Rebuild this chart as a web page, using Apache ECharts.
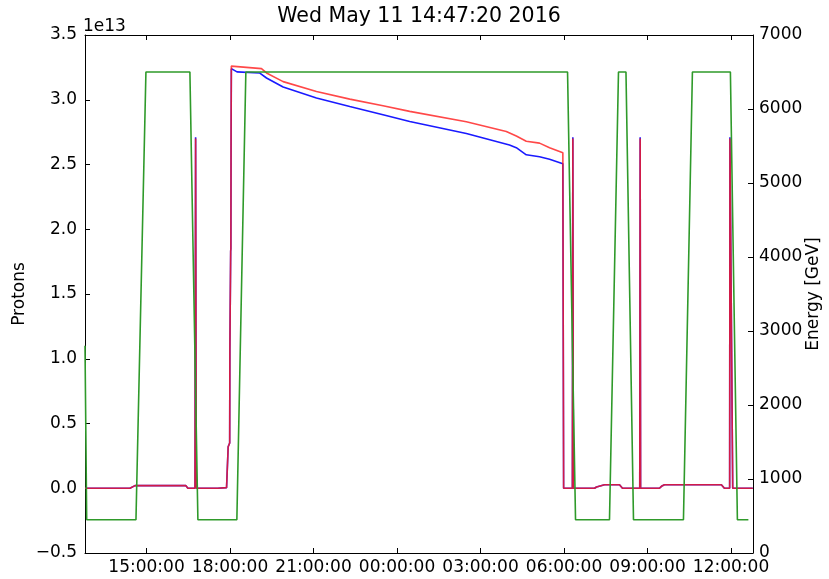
<!DOCTYPE html>
<html>
<head>
<meta charset="utf-8">
<script src="https://cdn.jsdelivr.net/npm/echarts@6/dist/echarts.min.js"></script>
<style>
html,body{margin:0;padding:0;background:#fff;}
#chart{width:829px;height:579px;}
</style>
</head>
<body>
<div id="chart"></div>
<script>
// Time in hours since Tue May 10 2016 00:00 (values > 24 are May 11)
var xMin = 12.7889, xMax = 36.7889;
var xTickHours = [15, 18, 21, 24, 27, 30, 33, 36];

// Energy [GeV]
var energyTimes  = [12.789, 12.85, 14.62, 14.978, 16.558, 16.845, 18.245, 18.568, 30.126, 30.413, 31.633, 31.956, 32.225, 32.495, 34.29, 34.612, 35.977, 36.228, 36.623];
var energyValues = [2800,   450,   450,   6500,   6500,   450,    450,    6500,   6500,   450,    450,    6500,   6500,   450,    450,   6500,   6500,   450,    450];

// Beam 1 (blue) protons, units of 1e13
var beam1Times  = [12.789, 14.404, 14.584, 16.414, 16.486, 16.74, 16.763, 16.786, 17.56, 17.6, 17.875, 17.922, 17.933, 17.987, 17.994, 18.016, 18.023, 18.03, 18.037, 18.047, 18.25, 19.07, 19.31, 19.907, 21.105, 22.301, 23.496, 24.455, 26.49, 28.04, 28.285, 28.643, 29.12, 29.48, 29.957, 29.985, 30.3, 30.316, 30.335, 31.095, 31.167, 31.454, 31.992, 32.1, 32.72, 32.735, 32.75, 33.428, 33.5, 33.608, 35.653, 35.761, 35.95, 35.96, 36.06, 36.78];
var beam1Values = [0.0,    0.0,    0.02,   0.02,   0.0,    0.0,   2.71,   0.0,    0.0,   0.005, 0.005, 0.015,  0.32,   0.35,   1.07,   1.08,   1.83,   1.85,  2.6,    3.24,   3.215, 3.206, 3.168, 3.098, 3.013,  2.948,  2.884,  2.832,  2.74,  2.65,  2.63,   2.575,  2.56,  2.54,  2.506,  0.0,    0.0,  2.71,   0.0,    0.0,    0.01,   0.027,  0.027,  0.0,  0.0,   2.71,   0.0,   0.0,    0.015, 0.027,  0.027,  0.0,    0.0,   2.71,  0.0,   0.0];

// Beam 2 (red) protons, units of 1e13
var beam2Times  = [12.789, 14.404, 14.584, 16.414, 16.486, 16.74, 16.763, 16.786, 17.56, 17.6, 17.875, 17.922, 17.933, 17.987, 17.994, 18.016, 18.023, 18.03, 18.037, 18.047, 18.1, 19.13, 19.31, 19.907, 21.105, 22.301, 23.496, 24.455, 26.49, 27.925, 28.285, 28.643, 29.12, 29.48, 29.957, 29.985, 30.3, 30.316, 30.335, 31.095, 31.167, 31.454, 31.992, 32.1, 32.72, 32.735, 32.75, 33.428, 33.5, 33.608, 35.653, 35.761, 35.95, 35.96, 36.06, 36.78];
var beam2Values = [0.0,    0.0,    0.02,   0.02,   0.0,    0.0,   2.70,   0.0,    0.0,   0.005, 0.005, 0.015,  0.32,   0.35,   1.07,   1.08,   1.83,   1.85,  2.78,   3.26,   3.25, 3.24,  3.207, 3.14,  3.064,  3.005,  2.953,  2.91,   2.83,  2.755, 2.72,   2.68,   2.665, 2.63,  2.59,   0.0,    0.0,  2.70,   0.0,    0.0,    0.01,   0.027,  0.027,  0.0,  0.0,   2.70,   0.0,   0.0,    0.015, 0.027,  0.027,  0.0,    0.0,   2.70,  0.0,   0.0];

var titleText = 'Wed May 11 14:47:20 2016';
var leftAxisName = 'Protons';
var rightAxisName = 'Energy [GeV]';
var offsetText = '1e13';

function zip(a, b) { return a.map(function (t, i) { return [t, b[i]]; }); }
function pad(n) { return (n < 10 ? '0' : '') + n; }

var FONT = 'DejaVu Sans';
var chart = echarts.init(document.getElementById('chart'), null, { renderer: 'canvas' });

var axisLineStyle = { color: '#000', width: 1 };
var tickStyle = { show: true, inside: true, length: 5, lineStyle: { color: '#000', width: 1 } };

var option = {
  animation: false,
  backgroundColor: '#fff',
  grid: { left: 85, right: 76, top: 35, bottom: 26, containLabel: false, outerBoundsMode: 'none' },
  graphic: [
    { type: 'text', x: 419, y: 17, style: { text: titleText, font: '20.5px "DejaVu Sans"', fill: '#000', textAlign: 'center', textVerticalAlign: 'middle' } },
    { type: 'text', x: 83, y: 27, style: { text: offsetText, font: '17px "DejaVu Sans"', fill: '#000', textAlign: 'left', textVerticalAlign: 'middle' } }
  ],
  xAxis: [
    {
      type: 'value', min: xMin, max: xMax, position: 'bottom',
      axisLine: { show: true, onZero: false, lineStyle: axisLineStyle },
      axisTick: Object.assign({ customValues: xTickHours }, tickStyle),
      axisLabel: {
        customValues: xTickHours, margin: 6, color: '#000', fontFamily: FONT, fontSize: 17,
        formatter: function (v) { return pad(Math.round(v) % 24) + ':00:00'; }
      },
      splitLine: { show: false }
    },
    {
      type: 'value', min: xMin, max: xMax, position: 'top',
      axisLine: { show: true, onZero: false, lineStyle: axisLineStyle },
      axisTick: Object.assign({ customValues: xTickHours }, tickStyle),
      axisLabel: { show: false, customValues: xTickHours },
      splitLine: { show: false }
    }
  ],
  yAxis: [
    {
      type: 'value', min: -0.5, max: 3.5, interval: 0.5, position: 'left',
      name: leftAxisName, nameLocation: 'middle', nameRotate: 90, nameGap: 57, nameMoveOverlap: false,
      nameTextStyle: { fontFamily: FONT, fontSize: 17, color: '#000' },
      axisLine: { show: true, onZero: false, lineStyle: axisLineStyle },
      axisTick: tickStyle,
      axisLabel: {
        margin: 8, color: '#000', fontFamily: FONT, fontSize: 17,
        formatter: function (v) { var s = Math.abs(v).toFixed(1); return v < 0 ? '\u2212' + s : s; }
      },
      splitLine: { show: false }
    },
    {
      type: 'value', min: 0, max: 7000, interval: 1000, position: 'right',
      name: rightAxisName, nameLocation: 'middle', nameRotate: 90, nameGap: 52, nameMoveOverlap: false,
      nameTextStyle: { fontFamily: FONT, fontSize: 17, color: '#000' },
      axisLine: { show: true, onZero: false, lineStyle: axisLineStyle },
      axisTick: tickStyle,
      axisLabel: { margin: 6, color: '#000', fontFamily: FONT, fontSize: 17, formatter: function (v) { return String(v); } },
      splitLine: { show: false }
    }
  ],
  series: [
    {
      name: 'Beam 1', type: 'line', xAxisIndex: 0, yAxisIndex: 0, data: zip(beam1Times, beam1Values),
      showSymbol: false, symbol: 'none', z: 2,
      lineStyle: { color: '#1a1aff', width: 1.6 }
    },
    {
      name: 'Beam 2', type: 'line', xAxisIndex: 0, yAxisIndex: 0, data: zip(beam2Times, beam2Values),
      showSymbol: false, symbol: 'none', z: 3,
      lineStyle: { color: '#ff1a1a', width: 1.6, opacity: 0.8 }
    },
    {
      name: 'Energy', type: 'line', xAxisIndex: 0, yAxisIndex: 1, data: zip(energyTimes, energyValues),
      showSymbol: false, symbol: 'none', z: 4,
      lineStyle: { color: '#2f9a2a', width: 1.6 }
    }
  ]
};
chart.setOption(option);
</script>
</body>
</html>
